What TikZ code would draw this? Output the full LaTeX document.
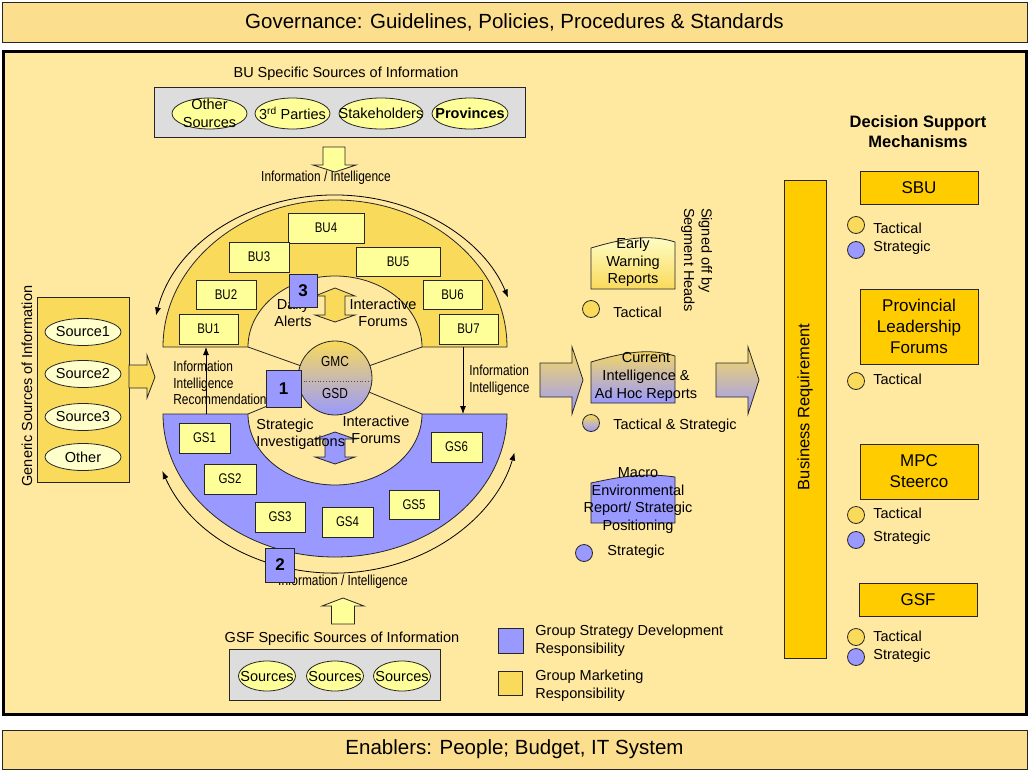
\documentclass[tikz,border=0pt]{standalone}
\usepackage{fontspec}
\setmainfont{Liberation Sans}
\newfontfamily\narrowfont[FakeStretch=0.82]{Liberation Sans}
\usetikzlibrary{arrows.meta,shapes.geometric,positioning}

\definecolor{banner}{HTML}{FCDF8E}
\definecolor{panel}{HTML}{FFE8A0}
\definecolor{gold}{HTML}{F9DA5B}
\definecolor{lilac}{HTML}{9999FF}
\definecolor{pale}{HTML}{FFFF99}
\definecolor{paler}{HTML}{FFFFCC}
\definecolor{amber}{HTML}{FFCC00}
\definecolor{greybox}{HTML}{DDDDDD}

\begin{document}
\begin{tikzpicture}[x=1pt, y=1pt, line width=0.8pt, >={Latex[length=8pt,width=6pt]},
    source/.style={ellipse, draw=black!85, fill=pale, minimum width=76pt, minimum height=31pt},
    unit/.style={rectangle, draw=black!85, fill=pale, minimum height=30pt, font=\narrowfont\fontsize{14}{16}\selectfont},
    badge/.style={rectangle, draw=black!85, fill=lilac, font=\bfseries\fontsize{17}{19}\selectfont},
    forum/.style={rectangle, draw=black!85, fill=amber, minimum width=118pt, font=\fontsize{17}{21}\selectfont},
    dot/.style={circle, draw=black!85, minimum size=17pt},
    note/.style={anchor=west, align=left},
    info/.style={font=\narrowfont\fontsize{14.5}{16.5}\selectfont, align=left}]
  \tikzstyle{every node}=[inner sep=0pt, font=\fontsize{14.5}{17.5}\selectfont, align=center]

  \useasboundingbox (0,0) rectangle (1030,-771);

  % banners and frame
  \node[draw=black!85, fill=banner, minimum width=1025pt, minimum height=40pt, font=\fontsize{20.5}{24}\selectfont] (gov) at (514.5,-22) {Governance: Guidelines, Policies, Procedures \& Standards};
  \draw[fill=panel, line width=3pt] (3,-51) rectangle (1026,-714);
  \node[draw=black!85, fill=banner, minimum width=1025pt, minimum height=39pt, font=\fontsize{20.5}{24}\selectfont] (enab) at (514.5,-749.5) {Enablers: People; Budget, IT System};

  % BU specific sources
  \node (butitle) at (346,-74) {BU Specific Sources of Information};
  \node[draw=black!85, fill=greybox, minimum width=371pt, minimum height=50pt] (bubox) at (339.5,-112) {};
  \node[source, minimum width=75pt] (other) at (209.5,-113.5) {};
  \node (othert) at (other) {Other\\Sources};
  \node[source, minimum width=75pt] (third) at (292.5,-113.5) {};
  \node (thirdt) at (third) {3\textsuperscript{rd} Parties};
  \node[source, minimum width=84pt] (stake) at (381,-113.5) {};
  \node (staket) at (stake) {Stakeholders};
  \node[source] (prov) at (470,-113.5) {};
  \node (provt) at (prov) {\bfseries Provinces};
  \draw[fill=pale, draw=black!85] (323,-147) -- (345,-147) -- (345,-165) -- (356,-165) -- (335,-172) -- (313,-165) -- (323,-165) -- cycle;
  \node[info] (topinfo) at (326,-178) {Information / Intelligence};

  % generic sources
  \node[rotate=90] (gentitle) at (27,-386) {Generic Sources of Information};
  \node[draw=black!85, fill=gold, minimum width=92pt, minimum height=185pt] (genbox) at (83,-389.5) {};
  \node[source, fill=paler, minimum height=27pt] (src1) at (83,-332) {};
  \node (src1t) at (src1) {Source1};
  \node[source, fill=paler, minimum height=27pt] (src2) at (83,-374) {};
  \node (src2t) at (src2) {Source2};
  \node[source, fill=paler, minimum height=27pt] (src3) at (83,-417) {};
  \node (src3t) at (src3) {Source3};
  \node[source, fill=paler, minimum height=27pt] (srco) at (83,-457) {};
  \node (srcot) at (srco) {Other};
  \draw[fill=gold, draw=black!85] (129,-365) -- (147,-365) -- (147,-355) -- (155,-377) -- (147,-398) -- (147,-388) -- (129,-388) -- cycle;

  % rings
  \draw[<->] ([shift={(335,-347)}]168:183 and 152) arc[start angle=168, end angle=19, x radius=183, y radius=152];
  \draw[<->] ([shift={(335,-414)}]201:185 and 159) arc[start angle=201, end angle=346, x radius=185, y radius=159];
  \draw[fill=gold, draw=black!85] (163,-347) arc[start angle=180, end angle=0, x radius=172, y radius=147] -- (422,-347) arc[start angle=0, end angle=180, x radius=87, y radius=71] -- cycle;
  \draw[fill=lilac, draw=black!85] (163,-414) arc[start angle=180, end angle=360, x radius=172, y radius=143] -- (422,-414) arc[start angle=360, end angle=180, x radius=87, y radius=71] -- cycle;
  \draw[draw=black!85] (248,-347) -- (335,-378) -- (422,-347);
  \draw[draw=black!85] (248,-414) -- (335,-378) -- (422,-414);
  \node[circle, draw=black!85, minimum size=74pt, top color=gold, bottom color=lilac] (core) at (335,-378) {};
  \draw[dotted, black!70] (298,-381) -- (372,-381);
  \node[info] (gmc) at (335,-362) {GMC};
  \node[info] (gsd) at (335,-394) {GSD};

  % business units
  \node[unit, minimum width=76pt] (bu4) at (326,-228) {BU4};
  \node[unit, minimum width=60pt] (bu3) at (259,-257) {BU3};
  \node[unit, minimum width=84pt, minimum height=29pt] (bu5) at (398,-261.5) {BU5};
  \node[unit, minimum width=60pt, minimum height=29pt] (bu2) at (226,-294.5) {BU2};
  \node[unit, minimum width=59pt, minimum height=29pt] (bu6) at (452.5,-294.5) {BU6};
  \node[unit, minimum width=59pt] (bu1) at (208.5,-329) {BU1};
  \node[unit, minimum width=59pt] (bu7) at (468.5,-329) {BU7};

  % group strategy
  \node[unit, minimum width=51pt] (gs1) at (204.5,-438) {GS1};
  \node[unit, minimum width=52pt] (gs2) at (230,-479) {GS2};
  \node[unit, minimum width=50pt] (gs3) at (280,-517) {GS3};
  \node[unit, minimum width=51pt] (gs4) at (347.5,-522) {GS4};
  \node[unit, minimum width=50pt, minimum height=29pt] (gs5) at (414,-504.5) {GS5};
  \node[unit, minimum width=51pt] (gs6) at (456.5,-447) {GS6};

  % inner forums
  \draw[fill=gold, draw=black!85] (335,-288) -- (355,-296) -- (345,-296) -- (345,-315) -- (355,-315) -- (335,-322) -- (315,-315) -- (325,-315) -- (325,-296) -- (315,-296) -- cycle;
  \draw[fill=lilac, draw=black!85] (335,-432) -- (355,-439) -- (345,-439) -- (345,-457) -- (355,-457) -- (335,-464) -- (315,-457) -- (325,-457) -- (325,-439) -- (315,-439) -- cycle;
  \node (daily) at (293,-313) {Daily\\Alerts};
  \node (forum1) at (383,-313) {Interactive\\Forums};
  \node[note] (invest) at (256,-434) {Strategic\\Investigations};
  \node (forum2) at (376,-430) {Interactive\\Forums};

  % information flows
  \coordinate (gsup) at (206,-414);
  \coordinate (buin) at (206,-347);
  \coordinate (budown) at (463,-347);
  \coordinate (gsin) at (463,-414);
  \draw[->] (gsup) -- (buin);
  \draw[->] (budown) -- (gsin);
  \node[info, anchor=west] (leftinfo) at (173,-383) {Information\\Intelligence\\Recommendation};
  \node[info, anchor=west] (rightinfo) at (469,-380) {Information\\Intelligence};
  \node[info] (lowinfo) at (343,-582) {Information / Intelligence};

  \node[badge, minimum width=28pt, minimum height=33pt] (n3) at (303,-290.5) {3};
  \node[badge, minimum width=35pt, minimum height=37pt] (n1) at (283.5,-388.5) {1};
  \node[badge, minimum width=29pt, minimum height=34pt] (n2) at (280,-565) {2};

  % GSF specific sources
  \draw[fill=pale, draw=black!85] (343,-598) -- (364,-606) -- (354.5,-606) -- (354.5,-624) -- (331.5,-624) -- (331.5,-606) -- (322,-606) -- cycle;
  \node (gsftitle) at (342,-639) {GSF Specific Sources of Information};
  \node[draw=black!85, fill=greybox, minimum width=210.5pt, minimum height=51pt] (gsfbox) at (334.75,-674.5) {};
  \node[source, minimum width=57pt, minimum height=30pt] (gsrc1) at (267,-676) {};
  \node (gsrc1t) at (gsrc1) {Sources};
  \node[source, minimum width=57pt, minimum height=30pt] (gsrc2) at (335,-676) {};
  \node (gsrc2t) at (gsrc2) {Sources};
  \node[source, minimum width=57pt, minimum height=30pt] (gsrc3) at (402,-676) {};
  \node (gsrc3t) at (gsrc3) {Sources};

  % legend
  \node[draw=black!85, fill=lilac, minimum size=25pt] (keyblue) at (510.5,-640.5) {};
  \node[note, font=\fontsize{14.5}{18}\selectfont] (keybluet) at (535,-641) {Group Strategy Development\\Responsibility};
  \node[draw=black!85, fill=gold, minimum size=24pt] (keygold) at (510.5,-683) {};
  \node[note, font=\fontsize{14.5}{18}\selectfont] (keygoldt) at (535,-686) {Group Marketing\\Responsibility};

  % reports
  \draw[top color=paler, bottom color=gold, draw=black!85] (591,-248) .. controls (625,-238) and (650,-234) .. (675,-242) -- (675,-289) -- (591,-289) -- cycle;
  \node (early) at (633,-262.5) {Early\\Warning\\Reports};
  \node[dot, fill=gold] (d1) at (591,-309) {};
  \node[note] (d1t) at (613,-312) {Tactical};
  \node[rotate=-90, align=left] (signed) at (696.5,-260) {Signed off by\\Segment Heads};

  \draw[top color=gold, bottom color=lilac, draw=black!85] (540,-363) -- (572,-363) -- (572,-347) -- (583,-380) -- (572,-414) -- (572,-397) -- (540,-397) -- cycle;
  \draw[top color=gold, bottom color=lilac, draw=black!85] (716,-363) -- (748,-363) -- (748,-347) -- (759,-380) -- (748,-414) -- (748,-397) -- (716,-397) -- cycle;
  \draw[top color=gold, bottom color=lilac, draw=black!85] (591,-362) .. controls (625,-352) and (650,-348) .. (675,-356) -- (675,-403) -- (591,-403) -- cycle;
  \node[font=\fontsize{14.5}{18}\selectfont] (curint) at (646,-377) {Current\\Intelligence \&\\Ad Hoc Reports};
  \node[dot, top color=gold, bottom color=lilac] (d2) at (591,-423) {};
  \node[note] (d2t) at (613,-426) {Tactical \& Strategic};

  \draw[fill=lilac, draw=black!85] (591,-483) .. controls (615,-478) and (640,-472) .. (675,-477) -- (675,-523) -- (591,-523) -- cycle;
  \node (macro) at (638,-500.5) {Macro\\Environmental\\Report/ Strategic\\Positioning};
  \node[dot, fill=lilac] (d3) at (584,-553) {};
  \node[note] (d3t) at (607,-552) {Strategic};

  % decision support
  \node[draw=black!85, fill=amber, minimum width=42pt, minimum height=478pt] (breq) at (805,-419) {};
  \node[rotate=90, font=\fontsize{16.5}{19}\selectfont] (breqt) at (805,-407) {Business Requirement};
  \node[font=\bfseries\fontsize{16.5}{20}\selectfont] (dsm) at (918,-132) {Decision Support\\Mechanisms};

  \node[forum, minimum height=33pt] (sbu) at (919,-187.5) {SBU};
  \node[dot, fill=gold] (sbu1) at (856,-225) {};
  \node[note] (sbu1t) at (873,-228) {Tactical};
  \node[dot, fill=lilac] (sbu2) at (856,-250) {};
  \node[note] (sbu2t) at (873,-248) {Strategic};

  \node[forum, minimum height=75pt] (plf) at (919,-326.5) {Provincial\\Leadership\\Forums};
  \node[dot, fill=gold] (plf1) at (856,-381) {};
  \node[note] (plf1t) at (873,-379) {Tactical};

  \node[forum, minimum height=55pt] (mpc) at (919,-471.5) {MPC\\Steerco};
  \node[dot, fill=gold] (mpc1) at (856,-515) {};
  \node[note] (mpc1t) at (873,-513) {Tactical};
  \node[dot, fill=lilac] (mpc2) at (856,-540) {};
  \node[note] (mpc2t) at (873,-538) {Strategic};

  \node[forum, minimum height=33pt] (gsf) at (918,-599.5) {GSF};
  \node[dot, fill=gold] (gsf1) at (856,-637) {};
  \node[note] (gsf1t) at (873,-636) {Tactical};
  \node[dot, fill=lilac] (gsf2) at (856,-657) {};
  \node[note] (gsf2t) at (873,-656) {Strategic};
\end{tikzpicture}
\end{document}
